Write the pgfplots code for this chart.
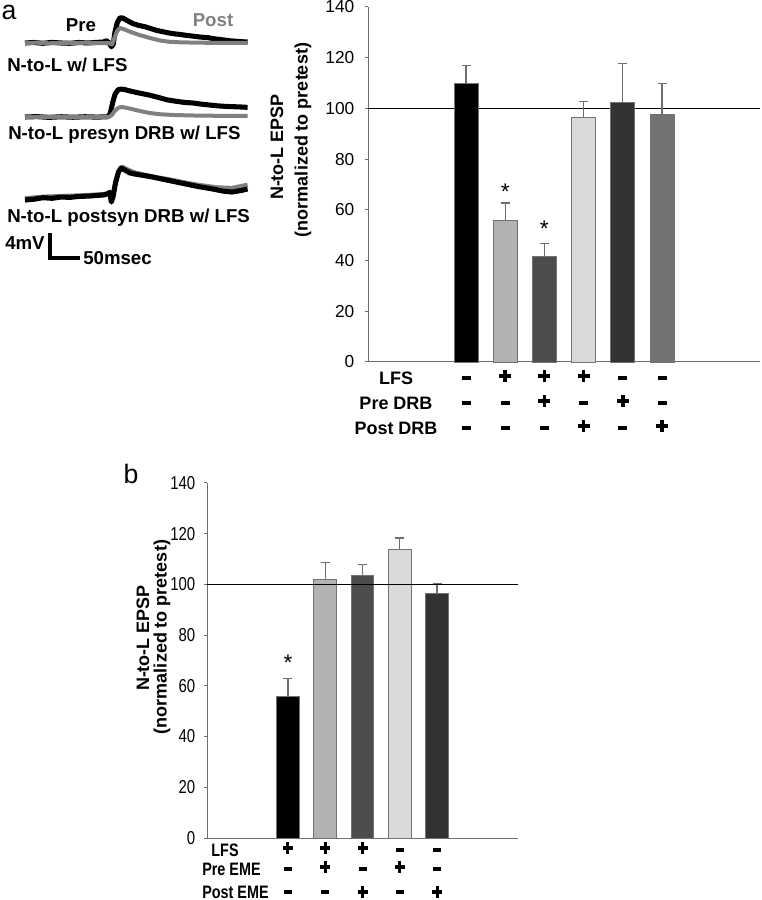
\documentclass[border=0pt]{standalone}
\usepackage{pgfplots}
\pgfplotsset{compat=1.18}
\usepackage{fontspec}
\setmainfont{Liberation Sans}
\newfontfamily\narrow[FakeStretch=0.8]{Liberation Sans}
\newlength\px \setlength\px{0.75pt}
\definecolor{tracegray}{RGB}{128,128,128}
\definecolor{c1}{RGB}{0,0,0}
\definecolor{c2}{RGB}{178,178,178}
\definecolor{c3}{RGB}{77,77,77}
\definecolor{c4}{RGB}{217,217,217}
\definecolor{c5}{RGB}{50,50,50}
\definecolor{c6}{RGB}{115,115,115}
\definecolor{axgray}{RGB}{110,110,110}
\newcommand\pl{\ooalign{\raisebox{4.25\px}{\rule{12\px}{3.5\px}}\cr\hidewidth\rule{3.5\px}{12\px}\hidewidth\cr}}
\newcommand\mn{\rule{0pt}{12\px}\raisebox{4\px}{\rule{9\px}{4\px}}}
\newcommand\pln{\ooalign{\raisebox{4.25\px}{\rule{10\px}{3.5\px}}\cr\hidewidth\rule{3\px}{12\px}\hidewidth\cr}}
\newcommand\mnn{\rule{0pt}{12\px}\raisebox{4\px}{\rule{8\px}{4\px}}}
\newcommand\lab{\fontsize{13.5}{16}\selectfont\bfseries}
\newcommand\trlab{\fontsize{14}{16}\selectfont\bfseries}
\pgfplotsset{
  mybar/.style={ybar, bar width=#1, bar shift=0pt, draw=black!55, line width=0.6pt,
    error bars/y dir=plus, error bars/y explicit,
    error bars/error bar style={axgray, line width=0.9pt},
    error bars/error mark options={rotate=90, mark size=4.5\px, axgray, line width=0.9pt}},
  barax/.style={anchor=south west, scale only axis, height=355\px,
    ymin=0, ymax=140, ytick={0,20,...,140}, xtick=\empty,
    axis x line=bottom, axis y line=left,
    axis line style={-, axgray, line width=0.75pt},
    tick style={axgray, line width=0.75pt}, major tick length=3\px, tick align=outside,
    /pgf/number format/assume math mode=true, clip=false},
}
\begin{document}
\begin{tikzpicture}
\useasboundingbox (0,0) rectangle (570.75pt,675pt);
% ---------------- traces ----------------
\begin{axis}[at={(18.75pt,478.5pt)}, anchor=south west, scale only axis, width=223\px, height=262\px,
  xmin=0, xmax=371.67, ymin=-35.04, ymax=6.88, hide axis, clip=false]
% trace 1 (pre black, post gray on top)
\addplot[black, line width=3.8pt, line join=round] coordinates {(0,0) (15,0.08) (30,-0.05) (45,0.1) (60,0) (75,-0.05) (90,0.08) (105,0) (120,0.1) (130,0.15) (136,0.35) (140,0.05) (144,-0.6) (147,-0.2) (150,1.8) (154,3.3) (158,4.0) (163,4.0) (170,3.6) (180,3.1) (190,2.8) (200,2.6) (210,2.3) (220,2.0) (230,1.8) (240,1.6) (250,1.45) (260,1.35) (270,1.2) (280,1.1) (292,0.95) (305,0.85) (317,0.65) (330,0.5) (342,0.35) (355,0.25) (371,0.15)};
\addplot[tracegray, line width=3pt, line join=round] coordinates {(0,0) (20,0.05) (40,-0.05) (60,0.03) (80,-0.03) (100,0.05) (120,-0.03) (140,0) (145,-0.25) (149,0.8) (153,1.8) (158,2.4) (165,2.2) (175,1.8) (190,1.3) (208,0.8) (225,0.4) (240,0.2) (260,0.1) (290,0.05) (330,0) (371,0)};
% trace 2
\addplot[black, line width=3.8pt, line join=round] coordinates {(0,-11.84) (20,-11.78) (40,-11.9) (60,-11.8) (80,-11.88) (100,-11.8) (120,-11.86) (138,-11.8) (142,-11.3) (146,-9.6) (150,-8.2) (155,-7.5) (160,-7.36) (168,-7.5) (178,-7.75) (190,-8.0) (208,-8.35) (222,-8.7) (237,-9.1) (250,-9.3) (265,-9.5) (280,-9.6) (292,-9.76) (305,-9.9) (320,-10.05) (335,-10.15) (350,-10.2) (362,-10.25) (371,-10.3)};
\addplot[tracegray, line width=3pt, line join=round] coordinates {(0,-11.84) (30,-11.84) (60,-11.8) (90,-11.86) (120,-11.82) (140,-11.84) (145,-11.5) (150,-10.8) (156,-10.35) (162,-10.24) (175,-10.5) (190,-10.85) (208,-11.2) (225,-11.4) (247,-11.52) (280,-11.6) (320,-11.65) (371,-11.68)};
% trace 3 (black on top)
\addplot[tracegray, line width=3.2pt, line join=round] coordinates {(0,-24.85) (30,-24.6) (60,-24.5) (90,-24.4) (120,-24.25) (140,-24.1) (145,-24.6) (149,-23.0) (155,-20.8) (162,-19.8) (170,-20.2) (182,-20.7) (200,-21.1) (220,-21.5) (240,-21.8) (265,-22.3) (292,-22.75) (320,-23.1) (345,-23.2) (360,-22.9) (371,-22.7)};
\addplot[black, line width=3.8pt, line join=round] coordinates {(0,-25.12) (15,-25.0) (30,-24.75) (45,-24.85) (60,-24.65) (75,-24.7) (90,-24.55) (105,-24.5) (120,-24.4) (132,-24.3) (138,-24.1) (141,-23.9) (144,-25.45) (147,-24.5) (151,-22.3) (156,-20.6) (160,-20.0) (166,-20.3) (175,-20.8) (185,-21.0) (195,-21.15) (210,-21.4) (225,-21.7) (240,-22.0) (255,-22.3) (270,-22.6) (285,-22.9) (300,-23.15) (315,-23.4) (330,-23.7) (345,-23.85) (360,-23.6) (371,-23.36)};
% scale bar
\addplot[black, line width=3pt] coordinates {(41.67,-30.4) (41.67,-34.4) (91.67,-34.4)};
\end{axis}
% ---------------- panel a bars ----------------
\begin{axis}[barax, at={(276pt,403.5pt)}, width=392\px, xmin=-2.5, xmax=7.5,
  yticklabel style={font=\fontsize{13}{15}\selectfont, xshift=-4.5pt}]
\addplot[black, line width=1.1pt] coordinates {(-2.5,100) (7.5,100)};
\addplot[fill=c1, mybar=24\px] coordinates {(0,109.8) +- (0,7)};
\addplot[fill=c2, mybar=24\px] coordinates {(1,56) +- (0,6.7)};
\addplot[fill=c3, mybar=24\px] coordinates {(2,41.8) +- (0,4.8)};
\addplot[fill=c4, mybar=24\px] coordinates {(3,96.5) +- (0,6.3)};
\addplot[fill=c5, mybar=24\px] coordinates {(4,102.3) +- (0,15.5)};
\addplot[fill=c6, mybar=24\px] coordinates {(5,97.8) +- (0,12)};
\node[font=\fontsize{17}{18}\selectfont, inner sep=0pt] at (axis cs:1,67) {*};
\node[font=\fontsize{17}{18}\selectfont, inner sep=0pt] at (axis cs:2,52.4) {*};
% signs
\node[inner sep=0pt] at (axis cs:0,0) [yshift=-16\px] {\mn};
\node[inner sep=0pt] at (axis cs:1,0) [yshift=-16\px] {\pl};
\node[inner sep=0pt] at (axis cs:2,0) [yshift=-16\px] {\pl};
\node[inner sep=0pt] at (axis cs:3,0) [yshift=-16\px] {\pl};
\node[inner sep=0pt] at (axis cs:4,0) [yshift=-16\px] {\mn};
\node[inner sep=0pt] at (axis cs:5,0) [yshift=-16\px] {\mn};
\node[inner sep=0pt] at (axis cs:0,0) [yshift=-41\px] {\mn};
\node[inner sep=0pt] at (axis cs:1,0) [yshift=-41\px] {\mn};
\node[inner sep=0pt] at (axis cs:2,0) [yshift=-41\px] {\pl};
\node[inner sep=0pt] at (axis cs:3,0) [yshift=-41\px] {\mn};
\node[inner sep=0pt] at (axis cs:4,0) [yshift=-41\px] {\pl};
\node[inner sep=0pt] at (axis cs:5,0) [yshift=-41\px] {\mn};
\node[inner sep=0pt] at (axis cs:0,0) [yshift=-66\px] {\mn};
\node[inner sep=0pt] at (axis cs:1,0) [yshift=-66\px] {\mn};
\node[inner sep=0pt] at (axis cs:2,0) [yshift=-66\px] {\mn};
\node[inner sep=0pt] at (axis cs:3,0) [yshift=-66\px] {\pl};
\node[inner sep=0pt] at (axis cs:4,0) [yshift=-66\px] {\mn};
\node[inner sep=0pt] at (axis cs:5,0) [yshift=-66\px] {\pl};
\end{axis}
% ---------------- panel b bars ----------------
\begin{axis}[barax, at={(155.25pt,46.5pt)}, width=311\px, xmin=-2.17, xmax=6.17,
  yticklabel style={font=\narrow\fontsize{14}{15}\selectfont, xshift=-3pt}]
\addplot[fill=c1, mybar=22.7\px] coordinates {(0,56) +- (0,7)};
\addplot[fill=c2, mybar=22.7\px] coordinates {(1,102) +- (0,6.8)};
\addplot[fill=c3, mybar=22.7\px] coordinates {(2,103.5) +- (0,4.5)};
\addplot[fill=c4, mybar=22.7\px] coordinates {(3,114) +- (0,4.3)};
\addplot[fill=c5, mybar=22.7\px] coordinates {(4,96.5) +- (0,4)};
\addplot[black, line width=1.1pt] coordinates {(-2.17,100) (6.17,100)};
\node[font=\fontsize{17}{18}\selectfont, inner sep=0pt] at (axis cs:0,69) {*};
\node[inner sep=0pt] at (axis cs:0,0) [yshift=-12\px] {\pln};
\node[inner sep=0pt] at (axis cs:1,0) [yshift=-12\px] {\pln};
\node[inner sep=0pt] at (axis cs:2,0) [yshift=-12\px] {\pln};
\node[inner sep=0pt] at (axis cs:3,0) [yshift=-12\px] {\mnn};
\node[inner sep=0pt] at (axis cs:4,0) [yshift=-12\px] {\mnn};
\node[inner sep=0pt] at (axis cs:0,0) [yshift=-31\px] {\mnn};
\node[inner sep=0pt] at (axis cs:1,0) [yshift=-31\px] {\pln};
\node[inner sep=0pt] at (axis cs:2,0) [yshift=-31\px] {\mnn};
\node[inner sep=0pt] at (axis cs:3,0) [yshift=-31\px] {\pln};
\node[inner sep=0pt] at (axis cs:4,0) [yshift=-31\px] {\mnn};
\node[inner sep=0pt] at (axis cs:0,0) [yshift=-54\px] {\mnn};
\node[inner sep=0pt] at (axis cs:1,0) [yshift=-54\px] {\mnn};
\node[inner sep=0pt] at (axis cs:2,0) [yshift=-56\px] {\pln};
\node[inner sep=0pt] at (axis cs:3,0) [yshift=-54\px] {\mnn};
\node[inner sep=0pt] at (axis cs:4,0) [yshift=-56\px] {\pln};
\end{axis}
% ---------------- free texts (pixel coordinates, y down) ----------------
\begin{scope}[x=0.75pt, y=-0.75pt, yshift=675pt]
\node[font=\fontsize{20}{22}\selectfont, inner sep=0pt] at (9,12) {a};
\node[font=\trlab, inner sep=0pt] at (81,25) {Pre};
\node[font=\trlab, text=tracegray, inner sep=0pt] at (213,20) {Post};
\node[font=\trlab, inner sep=0pt, anchor=west] at (7,65) {N-to-L w/ LFS};
\node[font=\trlab, inner sep=0pt, anchor=west] at (8,135) {N-to-L presyn DRB w/ LFS};
\node[font=\trlab, inner sep=0pt, anchor=west] at (7,218) {N-to-L postsyn DRB w/ LFS};
\node[font=\trlab, inner sep=0pt, anchor=west] at (5,243) {4mV};
\node[font=\trlab, inner sep=0pt, anchor=west] at (83,258) {50msec};
\node[font=\lab, rotate=90, inner sep=0pt] at (277,147) {N-to-L EPSP};
\node[font=\lab, rotate=90, inner sep=0pt] at (303,140) {(normalized to pretest)};
\node[font=\lab, inner sep=0pt] at (396,378) {LFS};
\node[font=\lab, inner sep=0pt] at (396,403) {Pre DRB};
\node[font=\lab, inner sep=0pt] at (396,428) {Post DRB};
\node[font=\fontsize{20}{22}\selectfont, inner sep=0pt] at (131,474) {b};
\node[font=\lab, rotate=90, inner sep=0pt] at (143,638) {N-to-L EPSP};
\node[font=\lab, rotate=90, inner sep=0pt] at (162,637) {(normalized to pretest)};
\node[font=\narrow\lab, inner sep=0pt] at (225,850) {LFS};
\node[font=\narrow\lab, inner sep=0pt, anchor=west] at (202,869) {Pre EME};
\node[font=\narrow\lab, inner sep=0pt, anchor=west] at (202,892) {Post EME};
\end{scope}
\end{tikzpicture}
\end{document}
